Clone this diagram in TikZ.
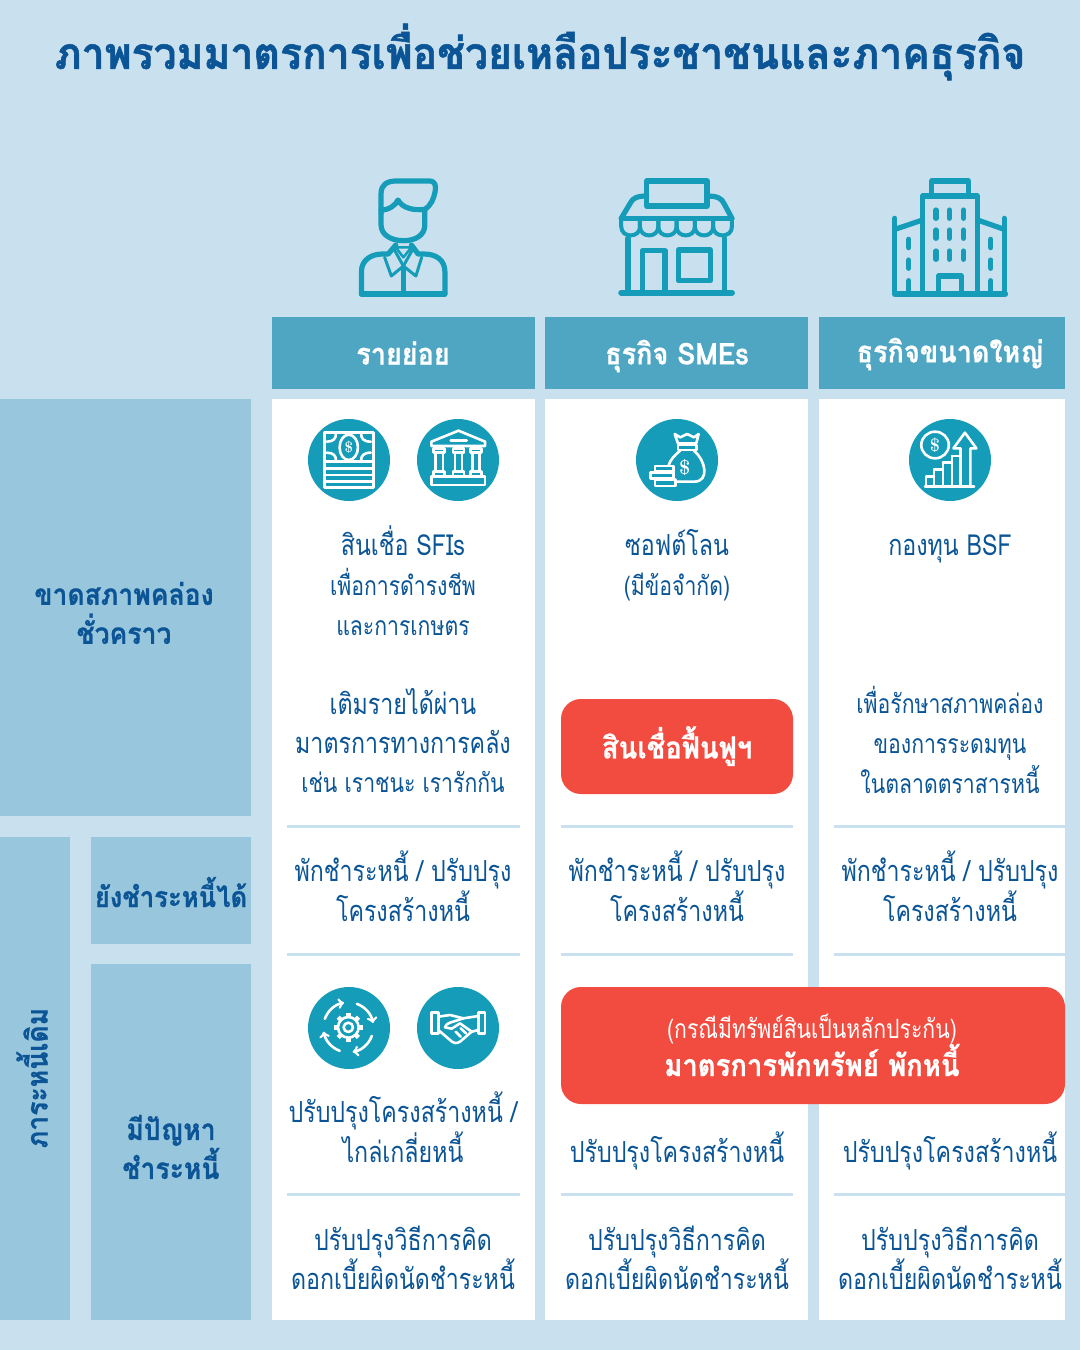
\documentclass[tikz,border=0pt]{standalone}
\usepackage{fontspec}
\newfontfamily\thaifont[Script=Thai,FakeStretch=0.80]{Loma}
\newfontfamily\thaiheavy[Script=Thai,FakeStretch=0.9,FakeBold=0.6,UprightFont=* Bold,ItalicFont=* Bold]{Loma}
\newfontfamily\thaititle[Script=Thai,FakeStretch=0.93,FakeBold=1.2,UprightFont=* Bold,ItalicFont=* Bold]{Loma}
\definecolor{pagebg}{HTML}{C9E1EE}
\definecolor{headblue}{HTML}{4FA6C2}
\definecolor{sideblue}{HTML}{98C6DC}
\definecolor{inkblue}{HTML}{0B5596}
\definecolor{iconteal}{HTML}{149CB8}
\definecolor{alertred}{HTML}{F24B3F}
\tikzset{
  body/.style={font=\thaifont\fontsize{29}{39.5}\selectfont, text=inkblue, align=center, inner sep=0pt},
  small/.style={body, font=\thaifont\fontsize{26.5}{40}\selectfont},
  side/.style={body, font=\thaiheavy\fontsize{29.5}{39}\selectfont},
  head/.style={body, font=\thaiheavy\fontsize{30}{34}\selectfont, text=white},
  redtitle/.style={body, font=\thaiheavy\fontsize{30.5}{34}\selectfont, text=white},
  column/.style={fill=white},
  rule/.style={draw=pagebg, line width=3pt},
  band/.style={fill=sideblue},
  redbox/.style={fill=alertred, rounded corners=20pt},
  iconline/.style={draw=iconteal, line width=5.2pt, line join=round, line cap=round},
  whiteline/.style={draw=white, line width=2.6pt, line join=round, line cap=round},
  disc/.style={fill=iconteal},
  bigicon/.style={shift={(340,170)}, xscale=1/2.24, yscale=1/3},
  tinyicon/.style={shift={(290,410)}, xscale=1/2.178, yscale=1/3},
  lowicon/.style={shift={(290,980)}, xscale=1/3, yscale=1/3},
}
\begin{document}
\begin{tikzpicture}[x=1pt, y=-1pt]
  \useasboundingbox[fill=pagebg] (0,0) rectangle (1080,1350);
  \node[body, font=\thaititle\fontsize{44}{48}\selectfont] at (540,52) (title) {ภาพรวมมาตรการเพื่อช่วยเหลือประชาชนและภาคธุรกิจ};
  % columns and headers
  \foreach \xa/\xb/\cx/\hy/\name/\word in {272/535/403/353/retail/รายย่อย, 545/808/677/356/smes/ธุรกิจ SMEs, 819/1065/950/354/large/ธุรกิจขนาดใหญ่} {
    \fill[column] (\xa,399) rectangle (\xb,1320);
    \fill[headblue] (\xa,317) rectangle (\xb,389);
    \node[head] at (\cx,\hy) (\name) {\word};
  }
  % side bands
  \fill[band] (0,399) rectangle (251,816);
  \fill[band] (0,837) rectangle (70,1320);
  \fill[band] (91,837) rectangle (251,944);
  \fill[band] (91,964) rectangle (251,1320);
  \node[side] at (124,613) (shortliq) {ขาดสภาพคล่อง\\ชั่วคราว};
  \node[side, rotate=90] at (32,1078) (olddebt) {ภาระหนี้เดิม};
  \node[side, font=\thaiheavy\fontsize{28.5}{39}\selectfont] at (171,892) (canpay) {ยังชำระหนี้ได้};
  \node[side] at (171,1147) (troubled) {มีปัญหา\\ชำระหนี้};
  % rules
  \foreach \xa/\xb in {287/520, 561/793, 834/1065}
    \foreach \yy in {826, 954, 1194}
      \draw[rule] (\xa,\yy) -- (\xb,\yy);
  % row one
  \node[body] at (403,541) (sfi) {สินเชื่อ SFIs};
  \node[small] at (403,602) (sfisub) {เพื่อการดำรงชีพ\\และการเกษตร};
  \node[body] at (403,721) (topup) {เติมรายได้ผ่าน\\มาตรการทางการคลัง};
  \node[small] at (403,782) (topupsub) {เช่น เราชนะ เรารักกัน};
  \node[body] at (677,543) (softloan) {ซอฟต์โลน};
  \node[small] at (677,587) (softsub) {(มีข้อจำกัด)};
  \fill[redbox] (561,699) rectangle (793,794);
  \node[redtitle] at (677,746) (rehab) {สินเชื่อฟื้นฟูฯ};
  \node[body] at (950,549) (bsf) {กองทุน BSF};
  \node[small] at (950,740) (bsfsub) {เพื่อรักษาสภาพคล่อง\\ของการระดมทุน\\ในตลาดตราสารหนี้};
  % repeated rows
  \foreach \cx/\name in {403/a, 677/b, 950/c} {
    \node[body] at (\cx,886) (pause\name) {พักชำระหนี้ / ปรับปรุง\\โครงสร้างหนี้};
    \node[body] at (\cx,1258) (rate\name) {ปรับปรุงวิธีการคิด\\ดอกเบี้ยผิดนัดชำระหนี้};
  }
  \node[body] at (403,1127) (restruct) {ปรับปรุงโครงสร้างหนี้ /\\ไกล่เกลี่ยหนี้};
  \node[body] at (677,1151) (restructb) {ปรับปรุงโครงสร้างหนี้};
  \node[body] at (950,1151) (restructc) {ปรับปรุงโครงสร้างหนี้};
  \fill[redbox] (561,987) rectangle (1065,1104);
  \node[small, text=white] at (812,1029) (collateral) {(กรณีมีทรัพย์สินเป็นหลักประกัน)};
  \node[redtitle] at (812,1060) (asset) {มาตรการพักทรัพย์ พักหนี้};
  % person
  \begin{scope}[bigicon]
    \draw[iconline] (92,130) -- (92,70) .. controls (92,45) and (105,33) .. (125,33) -- (200,33) .. controls (215,33) and (215,50) .. (213,65) .. controls (210,85) and (205,105) .. (190,118);
    \draw[iconline] (92,120) .. controls (110,120) and (125,105) .. (130,90) .. controls (140,115) and (165,122) .. (190,118);
    \draw[iconline] (92,130) -- (92,165) .. controls (92,195) and (115,212) .. (142,212) .. controls (170,212) and (190,195) .. (190,165) -- (190,118);
    \draw[iconline] (48,372) -- (48,305) .. controls (48,270) and (70,252) .. (95,252) -- (108,252) -- (125,225);
    \draw[iconline] (235,372) -- (235,305) .. controls (235,270) and (215,252) .. (188,252) -- (175,252) -- (160,225);
    \draw[iconline] (48,372) -- (235,372);
    \draw[iconline, line width=2.5pt] (125,232) -- (160,232) -- (142,262) -- cycle;
    \draw[iconline, line width=3pt] (100,262) -- (115,318) -- (142,288) -- (122,240);
    \draw[iconline, line width=3pt] (183,262) -- (170,318) -- (142,288) -- (162,240);
    \draw[iconline] (142,300) -- (142,372);
  \end{scope}
  % shop
  \begin{scope}[bigicon]
    \draw[iconline] (687,33) rectangle (822,108);
    \draw[iconline] (630,145) -- (650,100) .. controls (655,85) and (665,78) .. (687,78);
    \draw[iconline] (878,145) -- (860,100) .. controls (855,85) and (845,78) .. (822,78);
    \draw[iconline] (630,145) -- (878,145);
    \foreach \xa/\xb in {630/672, 672/713, 713/754, 754/795, 795/836, 836/878} {
      \draw[iconline, line width=4pt] (\xa,148) -- (\xa,170) .. controls (\xa,205) and (\xb,205) .. (\xb,170) -- (\xb,148);
    }
    \draw[iconline] (645,205) -- (645,368);
    \draw[iconline] (862,205) -- (862,368);
    \draw[iconline, line width=6pt] (630,368) -- (878,368);
    \draw[iconline] (677,368) -- (677,242) -- (728,242) -- (728,368);
    \draw[iconline] (758,240) rectangle (830,332);
  \end{scope}
  % tower
  \begin{scope}[bigicon]
    \draw[iconline] (1305,368) -- (1305,78) -- (1428,78) -- (1428,368);
    \draw[iconline] (1325,76) -- (1325,33) -- (1408,33) -- (1408,76);
    \draw[iconline] (1243,368) -- (1243,145);
    \draw[iconline] (1488,368) -- (1488,145);
    \draw[iconline] (1243,178) -- (1305,150);
    \draw[iconline] (1488,178) -- (1428,150);
    \draw[iconline, line width=6pt] (1243,372) -- (1490,372);
    \draw[iconline] (1340,368) -- (1340,318) -- (1392,318) -- (1392,368);
    \foreach \wx in {1335, 1365, 1397}
      \foreach \wy in {120, 180, 243}
        \draw[iconline] (\wx,\wy) -- (\wx,\wy+25);
    \foreach \wx in {1274, 1458} {
      \draw[iconline] (\wx,208) -- (\wx,233);
      \draw[iconline] (\wx,270) -- (\wx,295);
      \draw[iconline] (\wx,332) -- (\wx,368);
    }
  \end{scope}
  % discs
  \foreach \cx/\cy in {349/460, 458/460, 677/460, 950/460, 349/1028, 458/1028}
    \fill[disc] (\cx,\cy) circle (41);
  % bills
  \begin{scope}[tinyicon]
    \draw[whiteline] (75,68) rectangle (182,232);
    \foreach \yy in {155, 175, 195, 215}
      \draw[whiteline] (75,\yy) -- (182,\yy);
    \draw[whiteline] (128,112) ellipse (20 and 38);
    \draw[whiteline] (80,95) .. controls (95,95) and (100,85) .. (100,72);
    \draw[whiteline] (176,95) .. controls (160,95) and (155,85) .. (155,72);
    \draw[whiteline] (80,128) .. controls (95,128) and (100,138) .. (100,150);
    \draw[whiteline] (176,128) .. controls (160,128) and (155,138) .. (155,150);
    \node[text=white, inner sep=0pt, font=\fontsize{15}{15}\selectfont\bfseries] at (128,112) (billsign) {\$};
  \end{scope}
  % bank
  \begin{scope}[tinyicon]
    \draw[whiteline] (308,95) -- (367,62) -- (425,95) -- (425,108) -- (308,108) -- cycle;
    \draw[whiteline] (350,92) -- (385,92);
    \foreach \cx in {325, 367, 405} {
      \draw[whiteline] (\cx-12,115) rectangle (\cx+12,128);
      \draw[whiteline] (\cx-8,128) -- (\cx-8,185);
      \draw[whiteline] (\cx+8,128) -- (\cx+8,185);
      \draw[whiteline] (\cx-12,185) rectangle (\cx+12,198);
    }
    \draw[whiteline] (308,200) rectangle (425,225);
  \end{scope}
  % money bag
  \begin{scope}[tinyicon]
    \draw[whiteline] (838,72) -- (850,82) -- (865,72) -- (880,82) -- (890,72) -- (885,100) -- (845,100) -- cycle;
    \draw[whiteline] (845,105) rectangle (885,120);
    \draw[whiteline] (850,122) .. controls (838,135) and (828,150) .. (825,165);
    \draw[whiteline] (880,122) .. controls (905,150) and (915,215) .. (880,215) -- (838,215);
    \draw[whiteline, fill=iconteal] (795,168) rectangle (835,184);
    \draw[whiteline, fill=iconteal] (785,188) rectangle (835,206);
    \draw[whiteline, fill=iconteal] (795,208) rectangle (840,228);
    \node[text=white, inner sep=0pt, font=\fontsize{20}{20}\selectfont\bfseries] at (860,172) (bagsign) {\$};
  \end{scope}
  % growth chart
  \begin{scope}[tinyicon]
    \draw[whiteline] (1405,105) ellipse (30 and 40);
    \node[text=white, inner sep=0pt, font=\fontsize{18}{18}\selectfont\bfseries] at (1405,105) (coinsign) {\$};
    \draw[whiteline] (1385,230) -- (1385,200) -- (1403,200) -- (1403,230);
    \draw[whiteline] (1403,178) -- (1422,178) -- (1422,230);
    \draw[whiteline] (1403,178) -- (1403,200);
    \draw[whiteline] (1422,158) -- (1442,158) -- (1442,230);
    \draw[whiteline] (1422,158) -- (1422,178);
    \draw[whiteline] (1442,138) -- (1460,138) -- (1460,230);
    \draw[whiteline] (1442,138) -- (1442,158);
    \draw[whiteline] (1460,115) -- (1445,115) -- (1470,68) -- (1495,115) -- (1482,115) -- (1482,230);
    \draw[whiteline] (1460,115) -- (1460,138);
    \draw[whiteline] (1383,230) -- (1490,230);
  \end{scope}
  % gear and turning arrows
  \begin{scope}[lowicon]
    \draw[whiteline] (175,142) circle (14);
    \draw[whiteline] (175,142) circle (31);
    \foreach \ang in {0, 45, ..., 315}
      \draw[whiteline, line width=4.5pt, line cap=butt] (175,142) ++(\ang:30) -- ++(\ang:13);
    \foreach \ang in {20, 110, 200, 290}
      \draw[whiteline, -to] (175,142) ++(\ang:75) arc (\ang:\ang+60:75);
  \end{scope}
  % handshake
  \begin{scope}[lowicon]
    \draw[whiteline] (425,97) rectangle (445,160);
    \draw[whiteline] (565,97) rectangle (585,160);
    \draw[whiteline] (445,110) -- (480,105) -- (520,115) -- (565,108);
    \draw[whiteline] (565,150) -- (545,155) -- (510,185) .. controls (500,192) and (490,190) .. (480,180) -- (445,150);
    \draw[whiteline] (520,115) -- (480,128) .. controls (470,132) and (465,138) .. (465,142) -- (485,146) -- (510,130) -- (545,155);
    \draw[whiteline] (497,155) -- (512,170);
    \draw[whiteline] (512,145) -- (528,160);
  \end{scope}
\end{tikzpicture}
\end{document}
